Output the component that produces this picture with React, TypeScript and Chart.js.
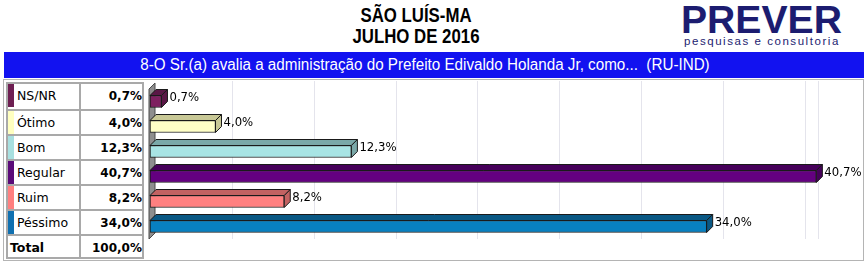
import React, { useEffect, useRef } from "react";
import { Chart, registerables } from "chart.js";

Chart.register(...registerables);

// ---- data ----
const categories = ["NS/NR", "Ótimo", "Bom", "Regular", "Ruim", "Péssimo"];
const values = [0.7, 4.0, 12.3, 40.7, 8.2, 34.0];
const totalLabel = "Total";
const totalValue = "100,0%";
const gridValues = [5, 10, 15, 20, 25, 30, 35, 40];
const axisMax = 40.8;
const titleLines = ["SÃO LUÍS-MA", "JULHO DE 2016"];
const question = "8-O Sr.(a) avalia a administração do Prefeito Edivaldo Holanda Jr, como...  (RU-IND)";
const logoName = "PREVER";
const logoSub = "pesquisas e consultoria";

// ---- styles ----
const frontColors = ["#7e2060", "#ffffc6", "#a8e4e4", "#640080", "#ff8080", "#0880c0"];
const topColors = ["#5a1746", "#c8c896", "#7aa8a8", "#46005a", "#c26262", "#0a5884"];
const stripColors = ["#6e1f52", "#ffffc0", "#a8e0e0", "#5a0a78", "#ff8080", "#1070b0"];
const DEPTH = 6;

const fmt = (v: number) => v.toFixed(1).replace(".", ",") + "%";

const bar3d = {
  id: "bar3d",
  beforeDatasetsDraw(chart: any) {
    const { ctx, chartArea, scales } = chart;
    const xs = scales.x;
    ctx.save();
    ctx.strokeStyle = "#e4e4ec";
    ctx.lineWidth = 1;
    const lines = [...gridValues.map((v) => xs.getPixelForValue(v)), chartArea.right];
    for (const p of lines) {
      const px = Math.round(p) + 0.5;
      ctx.beginPath();
      ctx.moveTo(px, chartArea.top - 8);
      ctx.lineTo(px, chartArea.bottom);
      ctx.stroke();
    }
    // left wall
    const x0 = xs.getPixelForValue(0) - 1;
    ctx.fillStyle = "#8e8e8e";
    ctx.strokeStyle = "#4a4a4a";
    ctx.beginPath();
    ctx.moveTo(x0, chartArea.top);
    ctx.lineTo(x0 + DEPTH, chartArea.top - DEPTH);
    ctx.lineTo(x0 + DEPTH, chartArea.bottom - DEPTH);
    ctx.lineTo(x0, chartArea.bottom);
    ctx.closePath();
    ctx.fill();
    ctx.stroke();
    ctx.restore();
  },
  afterDatasetsDraw(chart: any) {
    const { ctx } = chart;
    const meta = chart.getDatasetMeta(0);
    ctx.save();
    ctx.lineWidth = 1;
    ctx.strokeStyle = "#1a1a1a";
    meta.data.forEach((el: any, i: number) => {
      const { x, y, base, height } = el.getProps(["x", "y", "base", "height"], true);
      const top = y - height / 2;
      const bottom = y + height / 2;
      const left = base;
      const right = x;
      // top face
      ctx.fillStyle = topColors[i];
      ctx.beginPath();
      ctx.moveTo(left, top);
      ctx.lineTo(left + DEPTH, top - DEPTH);
      ctx.lineTo(right + DEPTH, top - DEPTH);
      ctx.lineTo(right, top);
      ctx.closePath();
      ctx.fill();
      ctx.stroke();
      // side face
      ctx.beginPath();
      ctx.moveTo(right, top);
      ctx.lineTo(right + DEPTH, top - DEPTH);
      ctx.lineTo(right + DEPTH, bottom - DEPTH);
      ctx.lineTo(right, bottom);
      ctx.closePath();
      ctx.fill();
      ctx.stroke();
      // label
      ctx.fillStyle = "#000";
      ctx.font = "11.7px 'DejaVu Sans'";
      ctx.textBaseline = "middle";
      ctx.textAlign = "left";
      ctx.fillText(fmt(values[i]), right + DEPTH + 2, y - 4);
    });
    ctx.restore();
  },
};

export default function App() {
  const ref = useRef<HTMLCanvasElement>(null);

  useEffect(() => {
    if (!ref.current) return;
    const chart = new Chart(ref.current, {
      type: "bar",
      data: {
        labels: categories,
        datasets: [
          {
            data: values,
            backgroundColor: frontColors,
            borderColor: "#1a1a1a",
            borderWidth: 1,
            borderSkipped: false,
            barThickness: 12,
          },
        ],
      },
      options: {
        indexAxis: "y",
        responsive: false,
        maintainAspectRatio: false,
        animation: false,
        layout: { padding: { left: 150, right: 50, top: 89, bottom: 28 } },
        plugins: { legend: { display: false }, tooltip: { enabled: false }, title: { display: false } },
        scales: {
          x: { display: false, min: 0, max: axisMax, grid: { display: false } },
          y: { display: false, grid: { display: false } },
        },
      },
      plugins: [bar3d],
    });
    return () => chart.destroy();
  }, []);

  const border = "2px solid #a9a9a9";
  const rows = [...categories.map((c, i) => ({ label: c, value: fmt(values[i]), strip: stripColors[i], bold: false })),
    { label: totalLabel, value: totalValue, strip: null as any, bold: true }];

  return (
    <div style={{ position: "absolute", left: 0, top: 0, width: 868, height: 267, background: "#fff", overflow: "hidden" }}>
      {/* title */}
      <div style={{ position: "absolute", left: 266, top: 5, width: 300, textAlign: "center", fontFamily: "'Liberation Sans', sans-serif", fontWeight: "bold", fontSize: 20, lineHeight: "21px", color: "#000", transform: "scaleX(0.84)", transformOrigin: "150px 0" }}>
        {titleLines.map((t) => (<div key={t}>{t}</div>))}
      </div>
      {/* logo */}
      <div style={{ position: "absolute", left: 681, top: 1.3, fontFamily: "'Liberation Sans', sans-serif", fontWeight: "bold", fontSize: 38, lineHeight: "38px", color: "#1c1c70", transform: "scaleX(1.03)", transformOrigin: "left top", whiteSpace: "nowrap" }}>
        {logoName}
      </div>
      <div style={{ position: "absolute", left: 684, top: 35, fontFamily: "'Liberation Sans', sans-serif", fontSize: 11.5, lineHeight: "12px", letterSpacing: 1.55, color: "#1c1c70", whiteSpace: "nowrap" }}>
        {logoSub}
      </div>
      {/* question bar */}
      <div style={{ position: "absolute", left: 4, top: 52, width: 860, height: 26, background: "#1212f0" }} />
      <div style={{ position: "absolute", left: 0, top: 52, width: 850, height: 26, color: "#fff", textAlign: "center", fontFamily: "'Liberation Sans', sans-serif", fontSize: 16, lineHeight: "26px", whiteSpace: "pre", transform: "scaleX(0.95)", transformOrigin: "425px 0" }}>
        {question}
      </div>
      {/* frame */}
      <div style={{ position: "absolute", left: 3, top: 79, width: 861, height: 182, border: "1px solid #b4b4b4", boxSizing: "border-box" }} />
      {/* table */}
      <div style={{ position: "absolute", left: 6, top: 82, width: 138, height: 177, border, boxSizing: "border-box", fontFamily: "'DejaVu Sans', sans-serif", color: "#000" }}>
        <div style={{ position: "absolute", left: 71, top: 0, width: 2, height: 173, background: "#a9a9a9" }} />
        {rows.map((r, i) => (
          <div key={r.label} style={{ position: "absolute", left: 0, top: i * 25, width: 134, height: 23, borderTop: i > 0 ? border : "none", }}>
            {r.strip && <div style={{ position: "absolute", left: 0, top: 0, width: 6, height: 23, background: r.strip }} />}
            <div style={{ position: "absolute", left: r.bold ? 2 : 9, top: 0, height: 23, display: "flex", alignItems: "center", fontSize: 12.5, fontWeight: r.bold ? "bold" : "normal" }}>{r.label}</div>
            <div style={{ position: "absolute", right: 0, top: 0, height: 23, display: "flex", alignItems: "center", fontSize: 12, fontWeight: "bold" }}>{r.value}</div>
          </div>
        ))}
      </div>
      <canvas ref={ref} width={868} height={267} style={{ position: "absolute", left: 0, top: 0, width: 868, height: 267 }} />
    </div>
  );
}
